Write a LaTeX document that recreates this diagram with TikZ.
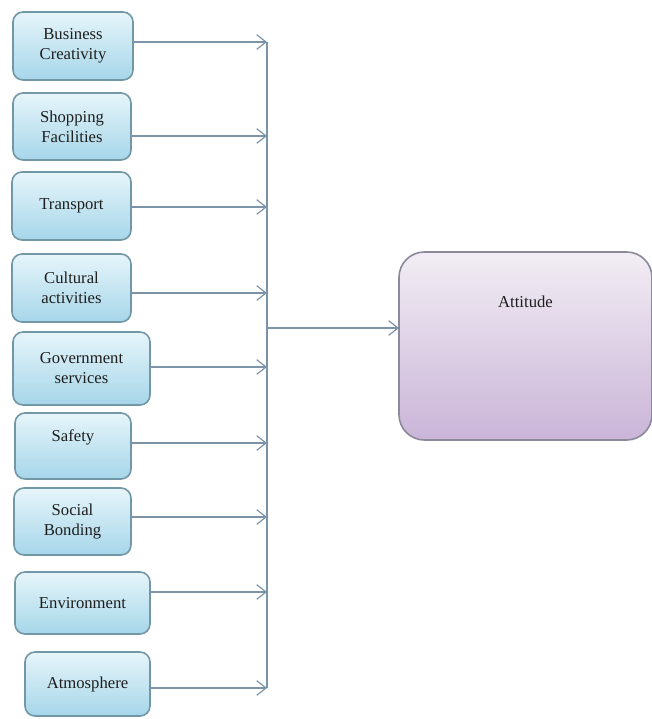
\documentclass[tikz,border=0pt]{standalone}
\usepackage{fontspec}
\setmainfont{Liberation Serif}
\usepackage{xcolor}
\usetikzlibrary{arrows.meta}

\definecolor{boxtop}{HTML}{E6F5FA}
\definecolor{boxbot}{HTML}{A6D6E9}
\definecolor{boxedge}{HTML}{7297A6}
\definecolor{atttop}{HTML}{F2EDF4}
\definecolor{attbot}{HTML}{CAB5D8}
\definecolor{attedge}{HTML}{8A8A9A}
\definecolor{linkcol}{HTML}{7C94AA}
\definecolor{txtcol}{HTML}{1E1E1E}

\tikzset{
  lbl/.style={align=center, text=txtcol, font=\fontsize{12.5}{15}\selectfont},
  factor/.style={lbl, draw=boxedge, line width=1.2pt, rounded corners=7.5pt,
    top color=boxtop, bottom color=boxbot, inner sep=0pt, outer sep=0pt},
  result/.style={draw=attedge, line width=1.2pt, rounded corners=19pt,
    top color=atttop, bottom color=attbot, inner sep=0pt, outer sep=0pt},
  link/.style={draw=linkcol, line width=0.9pt},
  linkarr/.style={link, -{Straight Barb[length=7pt,width=11pt]}}
}

\begin{document}
\begin{tikzpicture}[x=0.75pt,y=0.75pt,yscale=-1,xscale=1]
\useasboundingbox (0,0) rectangle (652,719);
% left column of factors
\node (b1) [factor, minimum width=90pt, minimum height=51pt] at (73,46) {Business\\Creativity};
\node (b2) [factor, minimum width=88.5pt, minimum height=50.25pt] at (72,126.5) {Shopping\\Facilities};
\node (b3) [factor, minimum width=89.25pt, minimum height=51pt] at (71.5,206) {Transport};
\node (b4) [factor, minimum width=89.25pt, minimum height=51pt] at (71.5,288) {Cultural\\activities};
\node (b5) [factor, minimum width=102.75pt, minimum height=54.75pt] at (81.5,368.5) {Government\\services};
\node (b6) [factor, minimum width=87pt, minimum height=49.5pt,
  label={[lbl, anchor=center, yshift=6.75pt]center:Safety}] at (73,446) {};
\node (b7) [factor, minimum width=87.75pt, minimum height=50.25pt] at (72.5,521.5) {Social\\Bonding};
\node (b8) [factor, minimum width=101.25pt, minimum height=46.5pt] at (82.5,603) {Environment};
\node (b9) [factor, minimum width=93.75pt, minimum height=48pt] at (87.5,684) {Atmosphere};
% outcome
\node (att) [result, minimum width=189.75pt, minimum height=141pt,
  label={[lbl, anchor=center, yshift=-37.5pt]north:Attitude}] at (525.5,346) {};
% collector line
\coordinate (t1) at (267,42);
\coordinate (t2) at (267,136);
\coordinate (t3) at (267,207);
\coordinate (t4) at (267,293);
\coordinate (t5) at (267,367);
\coordinate (t6) at (267,443);
\coordinate (t7) at (267,517);
\coordinate (t8) at (267,592);
\coordinate (t9) at (267,688);
\coordinate (tm) at (267,328);
\foreach \i in {1,...,9}
  \draw [linkarr] (b\i.east |- t\i) -- (t\i);
\draw [link] (t1) -- (t9);
\draw [linkarr] (tm) -- (tm -| att.west);
\end{tikzpicture}
\end{document}
